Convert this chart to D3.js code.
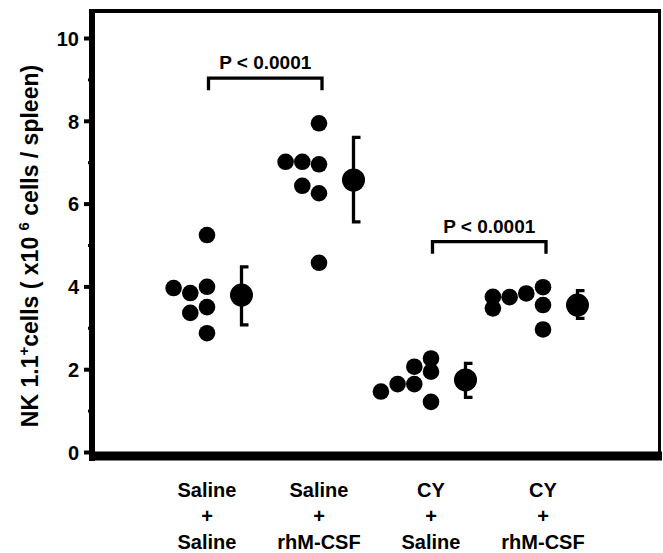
<!DOCTYPE html>
<html>
<head>
<meta charset="utf-8">
<script src="https://cdn.jsdelivr.net/npm/d3@7"></script>
<style>
  body { margin: 0; background: #fff; }
  svg { display: block; font-family: "Liberation Sans", Arial, Helvetica, sans-serif; font-weight: bold; }
</style>
</head>
<body>
<svg id="chart" width="663" height="553"></svg>
<script>
// groups along the x axis (label lines)
const groups = ['SS', 'SM', 'CS', 'CM']
const groupLines = [
  ['Saline', '+', 'Saline'],
  ['Saline', '+', 'rhM-CSF'],
  ['CY', '+', 'Saline'],
  ['CY', '+', 'rhM-CSF']
]

// individual mice, NK cells x10^6 / spleen
const valuesSS = [5.24, 3.96, 3.84, 3.99, 3.36, 3.50, 2.87]
const valuesSM = [7.94, 7.01, 7.01, 6.95, 6.43, 6.25, 4.57]
const valuesCS = [1.46, 1.64, 2.06, 1.64, 2.26, 1.94, 1.21]
const valuesCM = [3.75, 3.47, 3.74, 3.83, 3.98, 3.55, 2.96]
// dodge column of each dot (0 = right column, -1 one to the left ...)
const colsSS = [0, -2, -1, 0, -1, 0, 0]
const colsSM = [0, -2, -1, 0, -1, 0, 0]
const colsCS = [-3, -2, -1, -1, 0, 0, 0]
const colsCM = [-3, -3, -2, -1, 0, 0, 0]

// group mean and error bar ends
const means = [3.79, 6.57, 1.74, 3.55]
const errHigh = [4.47, 7.60, 2.14, 3.90]
const errLow = [3.07, 5.56, 1.32, 3.23]

// significance brackets
const bracketFrom = ['SS', 'CS']
const bracketTo = ['SM', 'CM']
const bracketLevel = [9.03, 5.08]
const bracketText = ['P < 0.0001', 'P < 0.0001']

const yTicks = [0, 2, 4, 6, 8, 10]
const yMinor = [1, 3, 5, 7, 9]

let allValues = [valuesSS, valuesSM, valuesCS, valuesCM]
let allCols = [colsSS, colsSM, colsCS, colsCM]

let svg = d3.select('#chart')

let y = d3.scaleLinear()
    .domain([0, 10])
    .range([452, 38])

let x = d3.scalePoint()
    .domain(groups)
    .range([207, 543])

let step = 16.7
let meanShift = 34.5

// frame: top and right border
svg.append('line')
    .attr('x1', 89).attr('x2', 661)
    .attr('y1', 11).attr('y2', 11)
    .style('stroke', '#000').style('stroke-width', 4)

svg.append('line')
    .attr('x1', 659.5).attr('x2', 659.5)
    .attr('y1', 9).attr('y2', 460)
    .style('stroke', '#000').style('stroke-width', 3)

// y axis
let yAxis = svg.append('g')
    .attr('transform', 'translate(92,0)')
    .call(d3.axisLeft(y).tickValues(yTicks).tickSize(8).tickPadding(5))

yAxis.select('.domain').remove()
yAxis.selectAll('line').style('stroke-width', 4)
yAxis.selectAll('text')
    .style('font-size', '20px')
    .style('font-weight', 'bold')
    .style('font-family', '"Liberation Sans", Arial, sans-serif')
    .attr('dy', '0.36em')

let yMinorAxis = svg.append('g')
    .attr('transform', 'translate(92,0)')
    .call(d3.axisLeft(y).tickValues(yMinor).tickSize(4).tickFormat(''))

yMinorAxis.select('.domain').remove()
yMinorAxis.selectAll('line').style('stroke-width', 3)

svg.append('line')
    .attr('x1', 92).attr('x2', 92)
    .attr('y1', 9).attr('y2', 461)
    .style('stroke', '#000').style('stroke-width', 6)

// x axis (bottom thick line)
svg.append('line')
    .attr('x1', 89).attr('x2', 662)
    .attr('y1', 456).attr('y2', 456)
    .style('stroke', '#000').style('stroke-width', 9)

// y axis title
let yTitle = svg.append('text')
    .attr('transform', 'translate(38,246) rotate(-90)')
    .attr('text-anchor', 'middle')
    .style('font-size', '23px')

yTitle.append('tspan').text('NK 1.1')
yTitle.append('tspan').text('+').attr('dy', -9).style('font-size', '15px')
yTitle.append('tspan').text('cells ( x10 ').attr('dy', 9)
yTitle.append('tspan').text('6').attr('dy', -9).style('font-size', '15px')
yTitle.append('tspan').text(' cells / spleen)').attr('dy', 9)

// category labels
let lineY = [497, 523, 549]
groupLines.forEach(function(lines, i) {
  lines.forEach(function(t, j) {
    svg.append('text')
        .attr('x', x(groups[i]))
        .attr('y', lineY[j])
        .attr('text-anchor', 'middle')
        .style('font-size', '20px')
        .text(t)
  })
})

// individual dots
let dots = []
allValues.forEach(function(vals, i) {
  vals.forEach(function(v, j) {
    dots.push({group: groups[i], value: v, col: allCols[i][j]})
  })
})

svg.append('g').selectAll('.dot')
    .data(dots)
  .enter().append('circle')
    .attr('class', 'dot')
    .attr('cx', function(d) { return x(d.group) + d.col * step })
    .attr('cy', function(d) { return y(d.value) })
    .attr('r', 8.3)
    .attr('fill', '#000')

// mean and error bars
let summary = groups.map(function(g, i) {
  return {group: g, mean: means[i], hi: errHigh[i], lo: errLow[i]}
})

let sg = svg.append('g')

sg.selectAll('.err')
    .data(summary)
  .enter().append('path')
    .attr('class', 'err')
    .attr('d', function(d) {
      let cx = x(d.group) + meanShift
      return 'M' + (cx + 7) + ',' + y(d.hi) + 'H' + cx + 'V' + y(d.lo) + 'H' + (cx + 7)
    })
    .attr('fill', 'none')
    .style('stroke', '#000')
    .style('stroke-width', 3.3)

sg.selectAll('.mean')
    .data(summary)
  .enter().append('circle')
    .attr('class', 'mean')
    .attr('cx', function(d) { return x(d.group) + meanShift })
    .attr('cy', function(d) { return y(d.mean) })
    .attr('r', 11.5)
    .attr('fill', '#000')

// p value brackets
bracketLevel.forEach(function(lv, i) {
  let x1 = x(bracketFrom[i]) + 1.5
  let x2 = x(bracketTo[i]) + 3
  let by = y(lv)
  svg.append('path')
      .attr('d', 'M' + x1 + ',' + (by + 12) + 'V' + by + 'H' + x2 + 'V' + (by + 12))
      .attr('fill', 'none')
      .style('stroke', '#000')
      .style('stroke-width', 3.3)
  svg.append('text')
      .attr('x', (x1 + x2) / 2)
      .attr('y', by - 9)
      .attr('text-anchor', 'middle')
      .style('font-size', '19px')
      .text(bracketText[i])
})
</script>
</body>
</html>
